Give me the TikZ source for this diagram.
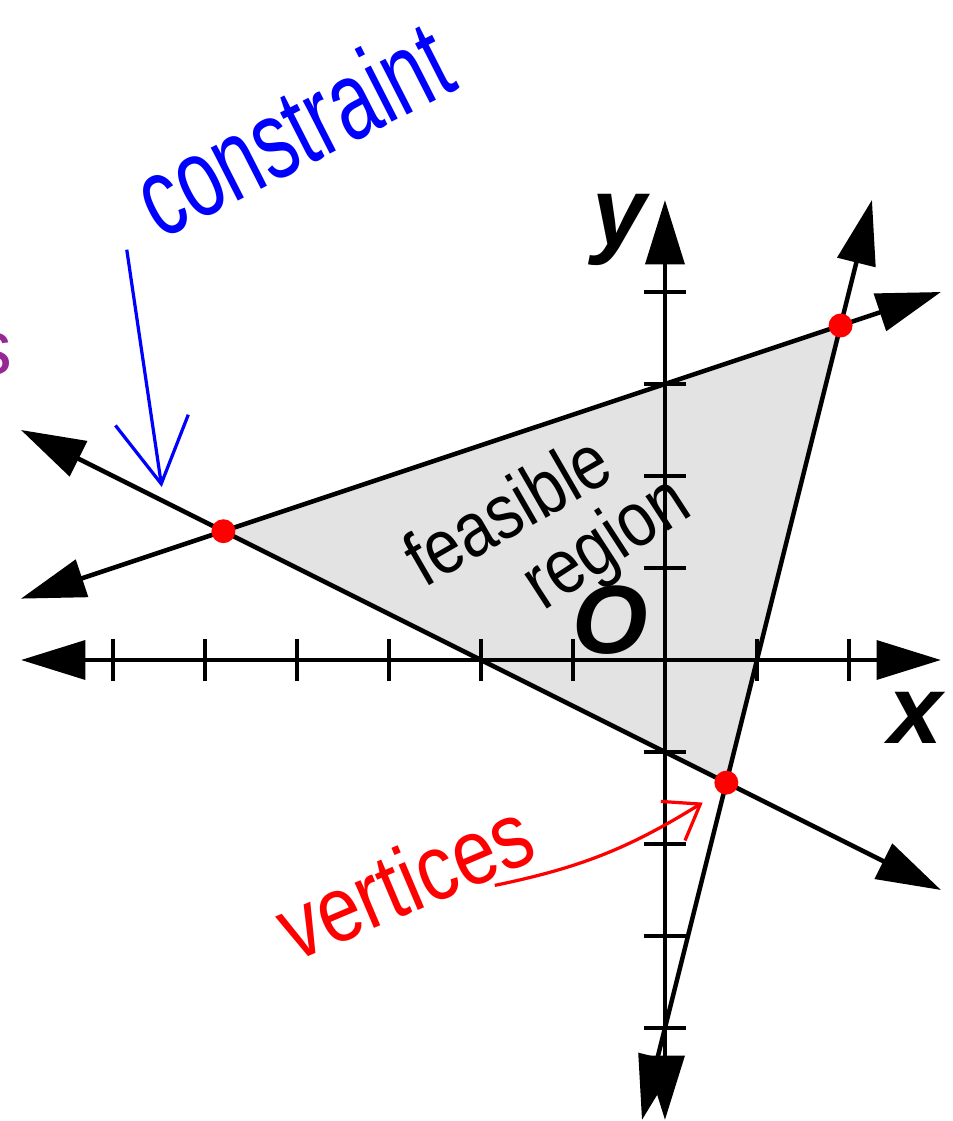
\documentclass[tikz,border=0pt]{standalone}
\usepackage{fontspec}
\setmainfont{Liberation Sans}
\usetikzlibrary{arrows.meta}
\definecolor{handpurple}{RGB}{150,40,150}
\tikzset{
  axis/.style={line width=1.5pt,<->},
  bound/.style={line width=1.4pt,<->},
  tick/.style={line width=1.1pt},
  hand/.style={font=\fontsize{24}{26}\selectfont,inner sep=0pt},
  axlabel/.style={font=\fontsize{30}{32}\selectfont\bfseries\itshape,inner sep=0pt},
  handarrow/.style={line width=1pt,-{Straight Barb[length=7mm,width=8mm]}},
}

\begin{document}
\begin{tikzpicture}[x=1cm,y=1cm,>={Triangle[length=7mm,width=4.2mm]}]
\useasboundingbox (-7.228,-5.011) rectangle (3.130,7.174);
\coordinate (A) at (-4.8,1.4);
\coordinate (B) at (1.909,3.636);
\coordinate (C) at (0.667,-1.333);
\fill[gray!22] (A) -- (B) -- (C) -- cycle;
\draw[axis] (-7,0) -- (3,0);
\draw[axis] (0,-5) -- (0,5);
\foreach \i in {-6,...,-1,1,2} \draw[tick] (\i,-0.23) -- (\i,0.23);
\foreach \j in {-4,...,-1,1,2,3,4} \draw[tick] (-0.23,\j) -- (0.23,\j);
\draw[bound] (-7,0.667) -- (3,4);
\draw[bound] (-7,2.5) -- (3,-2.5);
\draw[bound] (-0.25,-5) -- (2.25,5);
\foreach \p in {A,B,C} \fill[red] (\p) circle (0.13);
\node[axlabel] (ylab) at (-0.49,4.67) {y};
\node[axlabel] (xlab) at (2.72,-0.63) {x};
\node[axlabel] (olab) at (-0.6,0.43) {O};
\node[hand,blue,rotate=27,yscale=1.45] (cons) at (-4.05,5.78) {constraint};
\coordinate (consfrom) at (-5.85,4.46);
\coordinate (constip) at (-5.47,1.88);
\draw[handarrow,blue] (consfrom) -- (constip);
\node[hand,rotate=30,yscale=1.2,font=\fontsize{20}{22}\selectfont] (feas) at (-1.72,1.64) {feasible};
\node[hand,rotate=33,yscale=1.2,font=\fontsize{20}{22}\selectfont] (regn) at (-0.62,1.24) {region};
\node[hand,red,rotate=23,yscale=1.2] (vert) at (-2.83,-2.39) {vertices};
\coordinate (vertfrom) at (-1.85,-2.45);
\coordinate (verttip) at (0.41,-1.55);
\draw[red,line width=1pt,-{Straight Barb[length=3.5mm,width=5mm]}] (vertfrom) to[bend right=10] (verttip);
\node[hand,handpurple,anchor=east] (slab) at (-7.09,3.32) {s};
\end{tikzpicture}
\end{document}
